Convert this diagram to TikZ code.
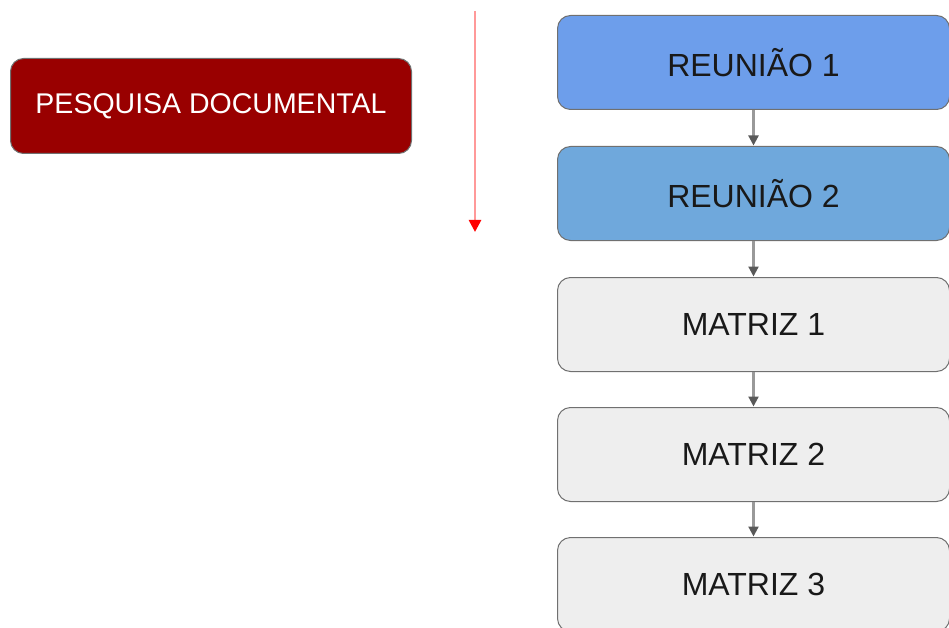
\documentclass[tikz,border=0pt]{standalone}
\usepackage{fontspec}
\setmainfont{Liberation Sans}
\usetikzlibrary{arrows.meta}
\definecolor{blueA}{HTML}{6D9EEB}
\definecolor{blueB}{HTML}{6FA8DC}
\definecolor{greyF}{HTML}{EEEEEE}
\definecolor{darkred}{HTML}{990000}
\definecolor{edge}{HTML}{707070}
\begin{document}
\begin{tikzpicture}[x=1pt,y=-1pt,
  box/.style={draw=edge, line width=1pt, rounded corners=13pt, minimum width=392pt, minimum height=94pt, inner sep=0pt, font=\fontsize{32}{36}\selectfont, text=black!90, anchor=north west},
  link/.style={draw=gray!80, line width=2.2pt, -{Triangle[length=10pt,width=10pt,color=black!65]}, shorten >=0.5pt}
]
\useasboundingbox (0,0) rectangle (949,628);
\node[box, fill=darkred, text=white, minimum width=401pt, minimum height=95pt, font=\fontsize{28.5}{32}\selectfont] (pd) at (10,58) {PESQUISA DOCUMENTAL};
\node[box, fill=blueA] (r1) at (557,15) {REUNIÃO 1};
\node[box, fill=blueB] (r2) at (557,146) {REUNIÃO 2};
\node[box, fill=greyF] (m1) at (557,277) {MATRIZ 1};
\node[box, fill=greyF] (m2) at (557,407) {MATRIZ 2};
\node[box, fill=greyF] (m3) at (557,537) {MATRIZ 3};
\draw[link] (r1.south) -- (r2.north);
\draw[link] (r2.south) -- (m1.north);
\draw[link] (m1.south) -- (m2.north);
\draw[link] (m2.south) -- (m3.north);
\coordinate (ta) at (475,11);
\coordinate (tb) at (475,232);
\draw[draw=red!40, line width=2.6pt, -{Triangle[length=12pt,width=12pt,color=red]}] (ta) -- (tb);
\end{tikzpicture}
\end{document}
